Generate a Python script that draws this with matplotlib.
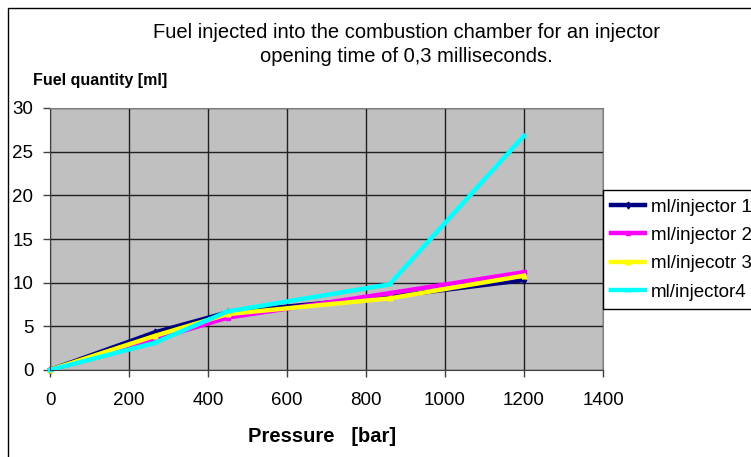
import matplotlib
matplotlib.use("Agg")
import matplotlib.pyplot as plt
from matplotlib.patches import Rectangle

plt.rcParams['font.family'] = ['Liberation Sans', 'DejaVu Sans']

pressure = [0, 265, 450, 860, 1200]
inj1 = [0, 4.3, 6.6, 8.4, 10.3]
inj2 = [0, 3.5, 6.0, 8.8, 11.2]
inj3 = [0, 3.9, 6.4, 8.2, 10.8]
inj4 = [0, 3.1, 6.7, 9.8, 26.8]

labels = ['ml/injector 1', 'ml/injector 2', 'ml/injecotr 3', 'ml/injector4']
colors = ['#000080', '#ff00ff', '#ffff00', '#00ffff']
markers = ['d', 's', '^', 'x']
xticks = [0, 200, 400, 600, 800, 1000, 1200, 1400]
yticks = [0, 5, 10, 15, 20, 25, 30]

fig = plt.figure(figsize=(7.51, 4.57), dpi=100)
fig.patches.append(Rectangle((8 / 751, -0.1), 1.2, 1 - 8 / 457 + 0.1,
                             transform=fig.transFigure, fill=False,
                             edgecolor='black', linewidth=1))

ax = fig.add_axes([50 / 751, 1 - 370 / 457, 553 / 751, 262 / 457])
ax.set_facecolor('#c0c0c0')

for ys, c, m, lab in zip([inj1, inj2, inj3, inj4], colors, markers, labels):
    ax.plot(pressure, ys, color=c, linewidth=3.2, marker=m, markersize=3.5,
            markeredgewidth=1, label=lab, clip_on=False)

ax.set_xlim(0, 1400)
ax.set_ylim(0, 30)
ax.set_xticks(xticks)
ax.set_yticks(yticks)
ax.grid(True, color='#202020', linewidth=1)
ax.set_axisbelow(True)
ax.tick_params(direction='out', length=5, width=1, labelsize=13.5,
               color='#404040')
ax.tick_params(axis='x', pad=11)
ax.tick_params(axis='y', pad=7)
for s in ['top', 'right']:
    ax.spines[s].set_color('#808080')
for s in ['left', 'bottom']:
    ax.spines[s].set_color('#404040')

fig.text(406 / 751, 1 - 33 / 457, 'Fuel injected into the combustion chamber for an injector',
         ha='center', va='center', fontsize=14.5)
fig.text(406 / 751, 1 - 56 / 457, 'opening time of 0,3 milliseconds.',
         ha='center', va='center', fontsize=14.5)
fig.text(33 / 751, 1 - 80 / 457, 'Fuel quantity [ml]', ha='left', va='center',
         fontsize=11.5, fontweight='bold')
fig.text(322 / 751, 1 - 437 / 457, 'Pressure   [bar]', ha='center', va='center',
         fontsize=14.5, fontweight='bold')

leg = ax.legend(loc='upper left', bbox_to_anchor=(603 / 751, 1 - 190 / 457),
                bbox_transform=fig.transFigure, frameon=True, fancybox=False,
                edgecolor='black', framealpha=1, fontsize=13.5,
                handlelength=1.8, handletextpad=0.3, borderpad=0.45,
                labelspacing=0.6, borderaxespad=0)
leg.get_frame().set_linewidth(1)

fig.savefig('out.png', dpi=100)
